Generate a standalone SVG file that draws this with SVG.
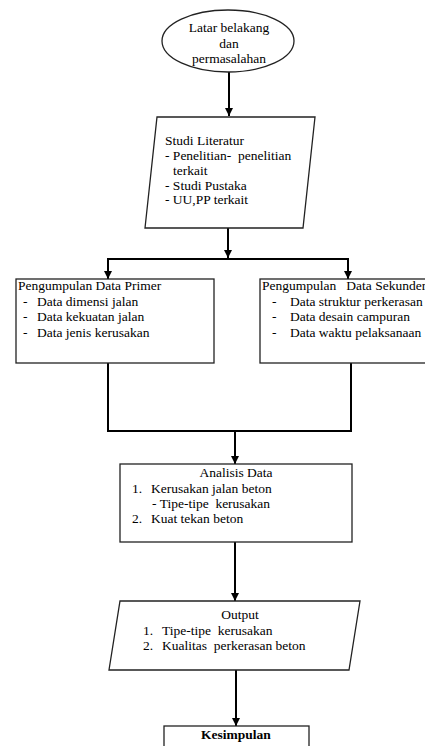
<svg xmlns="http://www.w3.org/2000/svg" width="425" height="746" viewBox="0 0 425 746">
<style>
text{font-family:"Liberation Serif","Times New Roman",serif;font-size:13.5px;fill:#000;white-space:pre}
.c{text-anchor:middle}
.b{font-weight:bold}
.shape{fill:#fff;stroke:#222;stroke-width:1.3}
.conn{fill:none;stroke:#000;stroke-width:2}
</style>
<defs>
<marker id="arr" viewBox="0 0 10 10" refX="10" refY="5" markerWidth="8" markerHeight="8" markerUnits="userSpaceOnUse" orient="auto">
<path d="M0,0 L10,5 L0,10 z" fill="#000"/>
</marker>
</defs>
<g id="connectors">
<path class="conn" d="M229,72 V116" marker-end="url(#arr)"/>
<path class="conn" d="M228,228 V258" marker-end="url(#arr)"/>
<path class="conn" d="M108,259 H348"/>
<path class="conn" d="M108,258 V279" marker-end="url(#arr)"/>
<path class="conn" d="M348,258 V279" marker-end="url(#arr)"/>
<path class="conn" d="M108,363 V431 H351 V363"/>
<path class="conn" d="M235,431 V464" marker-end="url(#arr)"/>
<path class="conn" d="M235,542 V601" marker-end="url(#arr)"/>
<path class="conn" d="M236,670 V726" marker-end="url(#arr)"/>
</g>
<g id="latar">
<ellipse class="shape" cx="228" cy="41" rx="66" ry="31"/>
<text class="c" x="229" y="32">Latar belakang</text>
<text class="c" x="229" y="48">dan</text>
<text class="c" x="229" y="63">permasalahan</text>
</g>
<g id="studi">
<polygon class="shape" points="157,117 315,117 303,228 145,228"/>
<text x="165" y="145">Studi Literatur</text>
<text x="165" y="160">- Penelitian-  penelitian</text>
<text x="173" y="175">terkait</text>
<text x="165" y="190">- Studi Pustaka</text>
<text x="165" y="204">- UU,PP terkait</text>
</g>
<g id="primer">
<rect class="shape" x="16" y="279" width="198" height="84"/>
<text x="18" y="290">Pengumpulan Data Primer</text>
<text x="23" y="306">-</text><text x="37" y="306">Data dimensi jalan</text>
<text x="23" y="321">-</text><text x="37" y="321">Data kekuatan jalan</text>
<text x="23" y="337">-</text><text x="37" y="337">Data jenis kerusakan</text>
</g>
<g id="sekunder">
<rect class="shape" x="260" y="279" width="180" height="84"/>
<text x="262" y="290">Pengumpulan   Data Sekunder</text>
<text x="272" y="306">-</text><text x="290" y="306">Data struktur perkerasan</text>
<text x="272" y="321">-</text><text x="290" y="321">Data desain campuran</text>
<text x="272" y="337">-</text><text x="290" y="337">Data waktu pelaksanaan</text>
</g>
<g id="analisis">
<rect class="shape" x="120" y="464" width="232" height="78"/>
<text class="c" x="236" y="477">Analisis Data</text>
<text x="132" y="493">1.</text><text x="151" y="493">Kerusakan jalan beton</text>
<text x="152" y="508">- Tipe-tipe  kerusakan</text>
<text x="132" y="523">2.</text><text x="151" y="523">Kuat tekan beton</text>
</g>
<g id="output">
<polygon class="shape" points="120,601 360,601 349,670 109,670"/>
<text class="c" x="240" y="619">Output</text>
<text x="143" y="635">1.</text><text x="162" y="635">Tipe-tipe  kerusakan</text>
<text x="143" y="650">2.</text><text x="162" y="650">Kualitas  perkerasan beton</text>
</g>
<g id="kesimpulan">
<rect class="shape" x="164" y="726" width="145" height="40"/>
<text class="c b" x="236" y="739">Kesimpulan</text>
</g>
</svg>
